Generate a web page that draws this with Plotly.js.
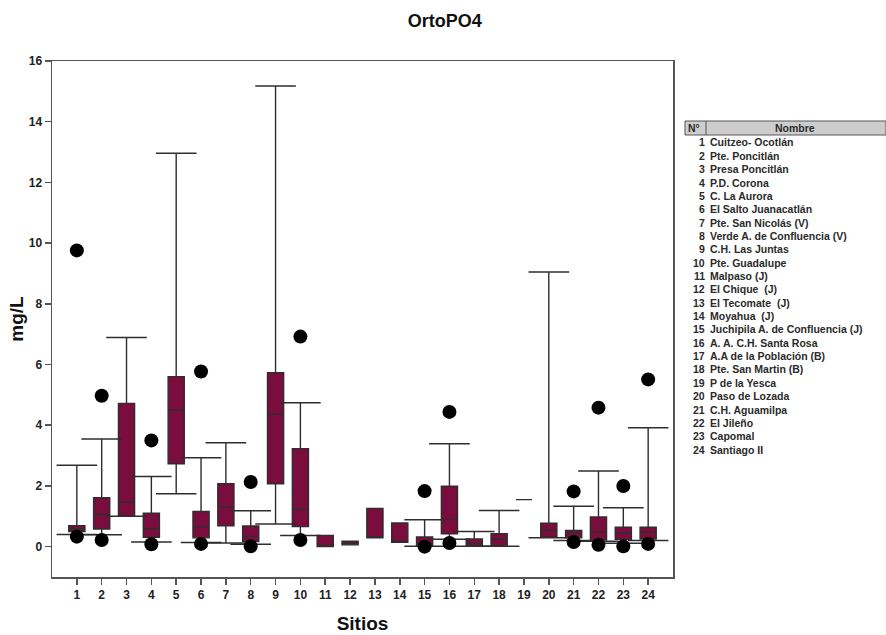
<!DOCTYPE html>
<html>
<head>
<meta charset="utf-8">
<script src="https://cdn.plot.ly/plotly-3.0.1.min.js"></script>
<style>html,body{margin:0;padding:0;background:#fff;}#chart{width:886px;height:635px;}</style>
</head>
<body>
<div id="chart"></div>
<script>
// ---- data ----
const sites = [1,2,3,4,5,6,7,8,9,10,11,12,13,14,15,16,17,18,19,20,21,22,23,24];
const siteNames = [
  "Cuitzeo- Ocotlán","Pte. Poncitlán","Presa Poncitlán","P.D. Corona","C. La Aurora",
  "El Salto Juanacatlán","Pte. San Nicolás (V)","Verde A. de Confluencia (V)","C.H. Las Juntas",
  "Pte. Guadalupe","Malpaso (J)","El Chique  (J)","El Tecomate  (J)","Moyahua  (J)",
  "Juchipila A. de Confluencia (J)","A. A. C.H. Santa Rosa","A.A de la Población (B)",
  "Pte. San Martin (B)","P de la Yesca","Paso de Lozada","C.H. Aguamilpa","El Jileño",
  "Capomal","Santiago II"
];
const q1  = [0.50,0.58,1.02,0.31,2.73,0.29,0.69,0.17,2.07,0.66,0.00,0.06,0.29,0.14,0.03,0.42,0.03,0.03,1.55,0.31,0.29,0.22,0.24,0.25];
const med = [0.58,1.06,1.47,0.58,4.50,0.66,1.30,0.34,4.36,1.23,0.00,0.12,0.29,0.14,0.10,0.90,0.10,0.25,1.55,0.53,0.44,0.49,0.46,0.47];
const q3  = [0.69,1.61,4.72,1.10,5.60,1.16,2.07,0.68,5.73,3.23,0.37,0.18,1.26,0.78,0.32,1.99,0.25,0.43,1.55,0.77,0.53,0.98,0.64,0.64];
const lowW  = [0.40,0.39,1.00,0.15,1.74,0.14,0.12,0.08,0.75,0.37,null,null,null,null,0.01,0.24,0.01,0.01,null,0.29,0.20,0.18,0.11,0.20];
const highW = [2.68,3.55,6.89,2.31,12.96,2.93,3.42,1.18,15.18,4.74,null,null,null,null,0.89,3.39,0.50,1.19,null,9.05,1.33,2.49,1.28,3.92];
const outSite = [1,1,2,2,4,4,6,6,8,8,10,10,15,15,16,16,21,21,22,22,23,23,24,24];
const outVal  = [9.76,0.33,4.97,0.22,3.50,0.08,5.77,0.09,2.13,0.01,6.92,0.22,1.83,0.00,4.44,0.12,1.82,0.15,4.58,0.06,2.00,0.01,5.51,0.09];

// ---- traces ----
const boxColor = '#7A0C3E';
const lineColor = '#2e2e2e';
const boxTrace = {
  type: 'box',
  x: sites,
  q1: q1, median: med, q3: q3,
  lowerfence: lowW.map((v,i) => v === null ? q1[i] : v),
  upperfence: highW.map((v,i) => v === null ? q3[i] : v),
  width: 0.65,
  whiskerwidth: 0,
  fillcolor: boxColor,
  line: {color: lineColor, width: 1.4},
  boxpoints: false,
  hoverinfo: 'skip',
  showlegend: false
};
const capX = [], capY = [];
sites.forEach((s,i) => {
  if (lowW[i] !== null) { capX.push(s); capY.push(lowW[i]); }
  if (highW[i] !== null) { capX.push(s); capY.push(highW[i]); }
});
const capTrace = {
  type: 'scatter', mode: 'markers', x: capX, y: capY,
  marker: {symbol: 'line-ew', size: 29, line: {color: lineColor, width: 1.5}},
  hoverinfo: 'skip', showlegend: false
};
const outTrace = {
  type: 'scatter', mode: 'markers', x: outSite, y: outVal,
  marker: {symbol: 'circle', size: 14, color: '#000'},
  showlegend: false
};

// ---- table on the right (annotations) ----
const L = 52, R = 673, T = 61, B = 577;
const px = v => (v - L) / (R - L);
const py = v => (B - v) / (B - T);
const tfont = {family: 'Liberation Sans, Arial, sans-serif', size: 10.5, color: '#2a2a2a', weight: 'bold'};
const annotations = [];
annotations.push({xref:'paper', yref:'paper', x: px(694), y: py(128), text:'N°', showarrow:false, xanchor:'center', yanchor:'middle', font: tfont});
annotations.push({xref:'paper', yref:'paper', x: px(795), y: py(128), text:'Nombre', showarrow:false, xanchor:'center', yanchor:'middle', font: tfont});
sites.forEach((s,i) => {
  const yy = 142.5 + i * 13.35;
  annotations.push({xref:'paper', yref:'paper', x: px(707), y: py(yy), text: String(s), showarrow:false, xanchor:'right', yanchor:'middle', font: tfont});
  annotations.push({xref:'paper', yref:'paper', x: px(708), y: py(yy), text: siteNames[i], showarrow:false, xanchor:'left', yanchor:'middle', font: tfont});
});
const shapes = [
  {type:'rect', xref:'paper', yref:'paper', x0: px(685), x1: px(886), y0: py(135), y1: py(121), fillcolor:'#cdcdcd', line:{color:'#555', width:1}, layer:'below'},
  {type:'line', xref:'paper', yref:'paper', x0: px(706), x1: px(706), y0: py(135), y1: py(121), line:{color:'#555', width:1}}
];

const axisFont = {family: 'Liberation Sans, Arial, sans-serif', size: 12, color: '#222', weight: 'bold'};
const layout = {
  width: 886, height: 635,
  margin: {l: L, r: 886 - R, t: T, b: 635 - B},
  paper_bgcolor: '#fff', plot_bgcolor: '#fff',
  title: {text: 'OrtoPO4', x: 0.502, xanchor: 'center', y: 1 - 21/635, yanchor: 'middle',
          font: {family: 'Liberation Sans, Arial, sans-serif', size: 18, color: '#111', weight: 'bold'}},
  xaxis: {
    range: [0, 25], tickmode: 'array', tickvals: sites, ticktext: sites.map(String),
    showgrid: false, zeroline: false, showline: true, linecolor: '#555', linewidth: 1.5, mirror: true,
    ticks: 'outside', ticklen: 6, tickcolor: '#555', tickwidth: 1.5, tickfont: axisFont,
    title: {text: 'Sitios', standoff: 16, font: {family: 'Liberation Sans, Arial, sans-serif', size: 19, color: '#111', weight: 'bold'}}
  },
  yaxis: {
    range: [-1, 16], tick0: 0, dtick: 2,
    showgrid: false, zeroline: false, showline: true, linecolor: '#555', linewidth: 1.5, mirror: true,
    ticks: 'outside', ticklen: 6, tickcolor: '#555', tickwidth: 1.5, tickfont: axisFont,
    title: {text: 'mg/L', standoff: 0, font: {family: 'Liberation Sans, Arial, sans-serif', size: 19, color: '#111', weight: 'bold'}}
  },
  annotations: annotations,
  shapes: shapes,
  showlegend: false
};

Plotly.newPlot('chart', [boxTrace, capTrace, outTrace], layout, {displayModeBar: false, staticPlot: true});
</script>
</body>
</html>
